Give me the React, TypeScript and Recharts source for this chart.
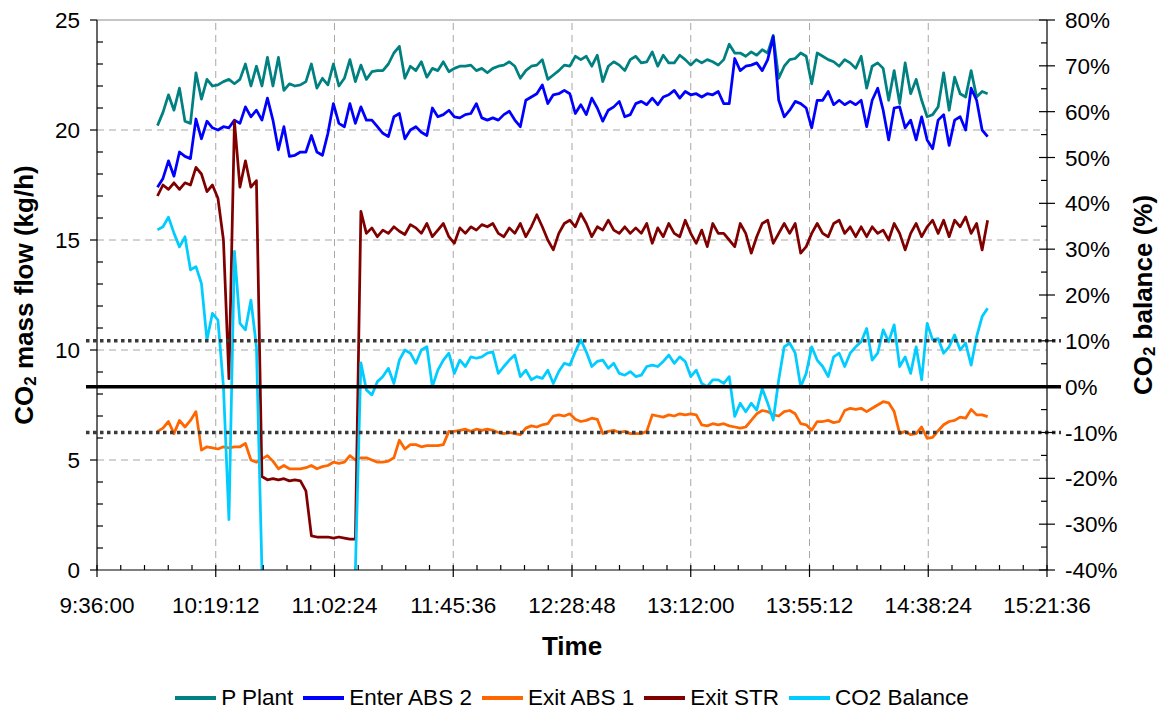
import React from 'react';
import { LineChart, Line, XAxis, YAxis, ReferenceLine, Legend } from 'recharts';

// Logged samples: first reading at 9:58 (minutes after midnight), one reading every 2 minutes
const SAMPLE_START_MIN = 598;
const SAMPLE_STEP_MIN = 2;

// CO2 mass flow, kg/h
const pPlant = [
  20.2, 20.8, 21.6, 20.9, 21.9, 20.4, 20.3, 22.6, 21.4, 22.3,
  22.0, 22.05, 22.2, 22.3, 22.1, 22.3, 23.0, 22.0, 22.9, 22.0,
  23.3, 22.0, 23.3, 21.8, 22.1, 22.0, 22.05, 22.2, 23.0, 21.9,
  22.35, 22.05, 23.0, 22.0, 22.35, 23.2, 22.2, 22.95, 22.3, 22.65,
  22.7, 22.7, 23.0, 23.5, 23.8, 22.35, 22.9, 22.7, 23.1, 22.4,
  22.8, 22.7, 23.1, 22.65, 22.8, 22.9, 22.9, 22.95, 22.7, 22.8,
  22.6, 22.8, 22.9, 22.95, 23.1, 22.9, 22.35, 22.7, 22.9, 22.95,
  23.2, 22.3, 22.5, 22.7, 22.95, 22.9, 23.35, 23.2, 23.35, 22.9,
  23.4, 22.2, 22.9, 23.1, 22.95, 22.7, 23.2, 23.35, 23.05, 23.1,
  23.55, 22.9, 23.4, 23.05, 23.05, 23.4, 23.2, 22.95, 23.2, 23.05,
  23.2, 23.1, 22.95, 23.2, 23.9, 23.5, 23.5, 23.35, 23.55, 23.4,
  23.65, 23.5, 24.3, 22.35, 22.9, 23.2, 23.25, 23.5, 23.35, 22.1,
  23.5, 23.35, 23.2, 23.1, 22.9, 23.2, 23.05, 22.8, 23.35, 21.9,
  22.9, 23.05, 22.8, 21.35, 22.7, 21.2, 23.05, 21.65, 22.3, 21.35,
  20.6, 20.7, 21.05, 22.6, 20.9, 22.4, 21.65, 21.5, 22.7, 21.5,
  21.75, 21.65,
];

const enterAbs2 = [
  17.4, 17.8, 18.6, 17.9, 19.0, 18.8, 18.7, 20.5, 19.6, 20.4,
  20.1, 20.0, 20.15, 20.1, 20.45, 20.3, 21.05, 20.6, 20.9, 20.45,
  21.45, 20.45, 19.1, 20.15, 18.8, 18.85, 19.0, 19.0, 19.75, 19.0,
  18.85, 19.85, 21.2, 20.3, 20.15, 21.2, 20.3, 21.05, 20.45, 20.45,
  20.15, 19.85, 19.7, 20.6, 20.75, 19.6, 20.0, 20.15, 19.9, 19.75,
  21.0, 20.6, 20.7, 20.9, 20.6, 20.55, 20.7, 20.75, 21.2, 20.55,
  20.45, 20.55, 20.45, 20.7, 20.85, 20.45, 20.15, 21.35, 21.5, 21.65,
  22.05, 21.2, 21.6, 21.65, 21.8, 21.65, 20.75, 21.15, 20.7, 21.45,
  21.0, 20.4, 20.9, 21.05, 21.3, 20.6, 20.7, 21.2, 21.3, 21.15,
  21.45, 21.15, 21.5, 21.6, 21.8, 21.45, 21.75, 21.6, 21.65, 21.5,
  21.65, 21.6, 21.75, 21.2, 21.2, 23.25, 22.7, 22.9, 22.95, 23.05,
  22.7, 23.2, 24.25, 21.35, 20.6, 20.9, 21.3, 21.2, 21.0, 20.1,
  21.35, 21.35, 21.75, 21.15, 21.35, 21.15, 21.3, 21.15, 21.35, 20.15,
  21.35, 21.9, 20.9, 19.55, 21.0, 21.05, 20.1, 20.45, 19.55, 20.6,
  19.55, 19.15, 20.45, 20.7, 19.3, 20.45, 20.6, 20.0, 21.9, 21.35,
  20.0, 19.7,
];

const exitAbs1 = [
  6.3, 6.45, 6.75, 6.2, 6.8, 6.5, 6.8, 7.2, 5.45, 5.6,
  5.55, 5.5, 5.6, 5.55, 5.6, 5.6, 5.75, 5.0, 4.9, 5.05,
  5.2, 4.95, 4.6, 4.75, 4.6, 4.6, 4.6, 4.65, 4.75, 4.6,
  4.7, 4.75, 4.9, 4.85, 4.9, 5.2, 5.0, 5.1, 5.1, 5.0,
  4.9, 4.9, 4.95, 5.1, 5.9, 5.5, 5.7, 5.7, 5.6, 5.65,
  5.65, 5.65, 5.7, 6.3, 6.3, 6.35, 6.4, 6.3, 6.4, 6.35,
  6.4, 6.35, 6.25, 6.2, 6.25, 6.2, 6.15, 6.45, 6.55, 6.5,
  6.6, 6.65, 7.0, 7.05, 7.0, 7.1, 6.85, 6.75, 6.8, 6.9,
  6.85, 6.2, 6.3, 6.35, 6.25, 6.3, 6.2, 6.2, 6.2, 6.3,
  7.05, 7.0, 6.95, 7.05, 7.0, 7.1, 7.05, 7.1, 7.05, 6.6,
  6.55, 6.65, 6.6, 6.65, 6.55, 6.5, 6.45, 6.5, 6.8, 7.1,
  7.25, 7.2, 7.05, 7.0, 7.2, 7.25, 7.1, 6.65, 6.6, 6.35,
  6.75, 6.75, 6.8, 6.7, 6.75, 7.25, 7.35, 7.3, 7.35, 7.2,
  7.35, 7.5, 7.65, 7.6, 7.2, 6.2, 6.3, 6.15, 6.2, 6.5,
  5.98, 6.03, 6.33, 6.6, 6.75, 6.8, 6.95, 6.9, 7.3, 7.05,
  7.05, 6.97,
];

const exitStr = [
  17.0, 17.5, 17.3, 17.6, 17.3, 17.6, 17.5, 18.3, 18.0, 17.2,
  17.5, 16.9, 15.0, 8.7, 20.4, 17.4, 18.6, 17.4, 17.7, 4.25,
  4.1, 4.15, 4.1, 4.15, 4.05, 4.1, 4.05, 3.6, 1.55, 1.5,
  1.5, 1.5, 1.45, 1.5, 1.45, 1.4, 1.4, 16.3, 15.3, 15.55,
  15.15, 15.45, 15.3, 15.6, 15.4, 15.25, 15.7, 15.55, 15.3, 15.75,
  15.15, 15.45, 15.75, 15.15, 14.85, 15.55, 15.3, 15.6, 15.45, 15.7,
  15.6, 15.75, 15.3, 15.15, 15.55, 15.3, 15.75, 15.15, 15.6, 16.15,
  15.6, 15.0, 14.55, 15.3, 15.75, 15.9, 15.6, 16.2, 15.75, 15.15,
  15.6, 15.45, 15.9, 15.45, 15.3, 15.6, 15.3, 15.55, 15.3, 15.75,
  14.85, 15.55, 15.15, 15.75, 15.3, 15.15, 15.9, 15.3, 14.85, 15.45,
  14.7, 15.75, 15.3, 15.3, 15.0, 14.7, 15.75, 15.3, 14.4, 15.15,
  15.75, 15.9, 14.85, 15.3, 15.75, 15.3, 15.75, 14.4, 14.7, 15.3,
  15.75, 15.3, 15.15, 15.75, 15.9, 15.3, 15.6, 15.15, 15.6, 15.15,
  15.6, 15.3, 15.45, 15.0, 15.75, 15.3, 14.55, 15.3, 15.75, 15.15,
  15.6, 15.9, 15.3, 15.9, 15.15, 15.9, 15.6, 16.05, 15.3, 15.75,
  14.55, 15.9,
];

// CO2 balance, % (null while the stripper outlet reading was off scale)
const co2Balance: (number | null)[] = [
  34.2, 34.9, 37.0, 33.5, 30.5, 32.7, 25.5, 26.2, 22.5, 10.2,
  16.0, 14.5, 0.0, -29.0, 29.5, 13.8, 12.4, 18.9, 8.7, -40,
  null, null, null, null, null, null, null, null, null, null,
  null, null, null, null, null, null, -40, 5.2, -0.7, -1.8,
  1.1, 2.2, 4.0, 0.7, 5.8, 8.0, 7.3, 5.1, 8.0, 8.7,
  0.0, 3.6, 5.8, 7.3, 2.9, 5.8, 4.4, 6.5, 6.2, 6.5,
  7.3, 7.6, 2.9, 4.4, 5.8, 6.9, 2.2, 3.6, 1.5, 2.2,
  1.8, 3.6, 0.7, 3.3, 5.1, 4.7, 7.6, 10.2, 7.6, 4.4,
  5.5, 5.8, 4.0, 5.1, 2.9, 2.5, 3.3, 2.2, 2.5, 4.4,
  4.7, 4.4, 5.5, 6.9, 5.1, 6.5, 5.5, 2.2, 3.6, 0.7,
  0.0, 1.5, 1.5, 0.7, 2.2, -6.5, -3.6, -5.5, -3.6, -5.1,
  -0.4, -3.6, -7.3, 1.5, 8.7, 9.5, 7.3, 0.0, 2.9, 8.7,
  5.8, 4.4, 2.2, 6.5, 7.3, 4.4, 7.3, 8.7, 9.8, 12.7,
  5.8, 7.3, 12.4, 9.8, 13.5, 4.4, 6.5, 2.9, 8.7, 1.5,
  13.8, 10.2, 10.5, 7.3, 8.7, 11.3, 8.0, 9.5, 4.7, 10.9,
  15.3, 17.1,
];

// Time axis: major ticks (minutes after midnight) and their labels
const timeTickValues = [576, 619.2, 662.4, 705.6, 748.8, 792, 835.2, 878.4, 921.6];
const timeTickLabels = ['9:36:00', '10:19:12', '11:02:24', '11:45:36', '12:28:48', '13:12:00', '13:55:12', '14:38:24', '15:21:36'];
const MINOR_PER_MAJOR = 5;

const flowTicks = Array.from({ length: 26 }, (_, i) => i); // 0..25 kg/h
const balanceTicks = Array.from({ length: 25 }, (_, i) => -40 + i * 5); // -40..80 %
const flowGridValues = [5, 10, 15, 20];
const balanceLimits = [10, -10];

const series = [
  { key: 'pPlant', name: 'P Plant', color: '#008080', axis: 'left' },
  { key: 'enterAbs2', name: 'Enter ABS 2', color: '#0000FF', axis: 'left' },
  { key: 'exitAbs1', name: 'Exit ABS 1', color: '#FF6600', axis: 'left' },
  { key: 'exitStr', name: 'Exit STR', color: '#800000', axis: 'left' },
  { key: 'co2Balance', name: 'CO2 Balance', color: '#00CCFF', axis: 'right' },
];

const data = pPlant.map((v, i) => ({
  t: SAMPLE_START_MIN + i * SAMPLE_STEP_MIN,
  pPlant: v,
  enterAbs2: enterAbs2[i],
  exitAbs1: exitAbs1[i],
  exitStr: exitStr[i],
  co2Balance: co2Balance[i],
}));

const timeTicksAll: number[] = timeTickValues.flatMap((v, i) => {
  if (i === timeTickValues.length - 1) return [v];
  const step = (timeTickValues[i + 1] - v) / MINOR_PER_MAJOR;
  return Array.from({ length: MINOR_PER_MAJOR }, (_, k) => v + k * step);
});

const FONT = '"Liberation Sans", Arial, Helvetica, sans-serif';
const TICK_FONT = 22.5;
const TITLE_FONT = 26;
const AXIS_STROKE = { stroke: '#000', strokeWidth: 1.2 };

function TimeTick({ x, y, payload }: any) {
  const idx = timeTickValues.findIndex((m) => Math.abs(m - payload.value) < 1e-6);
  if (idx < 0) {
    return <line x1={x} x2={x} y1={y - 5} y2={y} {...AXIS_STROKE} />;
  }
  return (
    <g>
      <line x1={x} x2={x} y1={y - 5} y2={y + 7} {...AXIS_STROKE} />
      <text x={x} y={y + 43} textAnchor="middle" fontSize={TICK_FONT} fontFamily={FONT} fill="#000">
        {timeTickLabels[idx]}
      </text>
    </g>
  );
}

function FlowTick({ x, y, payload }: any) {
  const v = payload.value;
  if (v % 5 !== 0) {
    return <line x1={x} x2={x + 6} y1={y} y2={y} {...AXIS_STROKE} />;
  }
  return (
    <g>
      <line x1={x - 7} x2={x} y1={y} y2={y} {...AXIS_STROKE} />
      <text x={x - 17} y={y} dy="0.36em" textAnchor="end" fontSize={TICK_FONT} fontFamily={FONT} fill="#000">
        {v}
      </text>
    </g>
  );
}

function BalanceTick({ x, y, payload }: any) {
  const v = payload.value;
  if (v % 10 !== 0) {
    return <line x1={x - 6} x2={x} y1={y} y2={y} {...AXIS_STROKE} />;
  }
  return (
    <g>
      <line x1={x - 8} x2={x + 8} y1={y} y2={y} {...AXIS_STROKE} />
      <text x={x + 18} y={y} dy="0.36em" textAnchor="start" fontSize={TICK_FONT} fontFamily={FONT} fill="#000">
        {`${v}%`}
      </text>
    </g>
  );
}

function VerticalTitle({ cx, cy, rest }: { cx: number; cy: number; rest: string }) {
  return (
    <text
      transform={`translate(${cx},${cy}) rotate(-90)`}
      textAnchor="middle"
      dominantBaseline="central"
      fontSize={TITLE_FONT}
      fontWeight="bold"
      fontFamily={FONT}
      fill="#000"
    >
      CO
      <tspan fontSize={17} dy={6}>2</tspan>
      <tspan dy={-6}>{rest}</tspan>
    </text>
  );
}

const leftTitle = (props: any) => {
  const vb = props.viewBox || { x: 0, y: 20, width: 97, height: 550 };
  return <VerticalTitle cx={vb.x + 24} cy={vb.y + vb.height / 2} rest=" mass flow (kg/h)" />;
};

const rightTitle = (props: any) => {
  const vb = props.viewBox || { x: 1047, y: 20, width: 122, height: 550 };
  return <VerticalTitle cx={vb.x + 96} cy={vb.y + vb.height / 2} rest=" balance (%)" />;
};

const timeTitle = (props: any) => {
  const vb = props.viewBox || { x: 97, y: 570, width: 950, height: 141 };
  return (
    <text
      x={vb.x + vb.width / 2}
      y={vb.y + 85}
      textAnchor="middle"
      fontSize={TITLE_FONT}
      fontWeight="bold"
      fontFamily={FONT}
      fill="#000"
    >
      Time
    </text>
  );
};

function LegendRow() {
  return (
    <div
      style={{
        display: 'flex',
        justifyContent: 'center',
        alignItems: 'center',
        gap: 10,
        height: 28,
        fontFamily: FONT,
        fontSize: TICK_FONT,
        color: '#000',
        whiteSpace: 'nowrap',
      }}
    >
      {series.map((s) => (
        <div key={s.key} style={{ display: 'flex', alignItems: 'center' }}>
          <span style={{ display: 'inline-block', width: 41, height: 3.5, background: s.color, marginRight: 5 }} />
          <span>{s.name}</span>
        </div>
      ))}
    </div>
  );
}

export default function App() {
  return (
    <div style={{ position: 'absolute', left: 0, top: 0, background: '#fff' }}>
      <LineChart width={1169} height={711} data={data} margin={{ top: 20, right: 0, bottom: 0, left: 0 }}>
        <XAxis
          dataKey="t"
          type="number"
          domain={[timeTickValues[0], timeTickValues[timeTickValues.length - 1]]}
          ticks={timeTicksAll}
          interval={0}
          height={141}
          tickSize={0}
          tickMargin={0}
          tickLine={false}
          axisLine={AXIS_STROKE}
          tick={<TimeTick />}
          label={{ content: timeTitle }}
        />
        <YAxis
          yAxisId="left"
          orientation="left"
          domain={[0, 25]}
          ticks={flowTicks}
          interval={0}
          width={97}
          tickSize={0}
          tickMargin={0}
          tickLine={false}
          axisLine={AXIS_STROKE}
          tick={<FlowTick />}
          label={{ content: leftTitle }}
        />
        <YAxis
          yAxisId="right"
          orientation="right"
          domain={[-40, 80]}
          ticks={balanceTicks}
          interval={0}
          width={122}
          tickSize={0}
          tickMargin={0}
          tickLine={false}
          axisLine={AXIS_STROKE}
          tick={<BalanceTick />}
          label={{ content: rightTitle }}
        />

        {flowGridValues.map((v) => (
          <ReferenceLine key={`hg${v}`} yAxisId="left" y={v} stroke="#a6a6a6" strokeWidth={1} strokeDasharray="7 5" />
        ))}
        {timeTickValues.slice(1, -1).map((v) => (
          <ReferenceLine key={`vg${v}`} yAxisId="left" x={v} stroke="#a6a6a6" strokeWidth={1} strokeDasharray="7 5" />
        ))}
        <ReferenceLine yAxisId="left" y={25} stroke="#8c8c8c" strokeWidth={1.2} />

        {series.map((s) => (
          <Line
            key={s.key}
            yAxisId={s.axis}
            dataKey={s.key}
            name={s.name}
            type="linear"
            stroke={s.color}
            strokeWidth={2.75}
            strokeLinejoin="round"
            dot={false}
            activeDot={false}
            connectNulls={false}
            isAnimationActive={false}
          />
        ))}

        {balanceLimits.map((v) => (
          <ReferenceLine
            key={`lim${v}`}
            yAxisId="right"
            segment={[{ x: 572, y: v }, { x: 926.7, y: v }]}
            ifOverflow="visible"
            stroke="#3a3a3a"
            strokeWidth={3.5}
            strokeDasharray="3.5 3.5"
          />
        ))}
        <ReferenceLine
          yAxisId="right"
          segment={[{ x: 572, y: 0 }, { x: 926.7, y: 0 }]}
          ifOverflow="visible"
          stroke="#000"
          strokeWidth={3.5}
        />

        <Legend
          layout="horizontal"
          align="center"
          verticalAlign="middle"
          wrapperStyle={{ top: 684, left: 97, width: 950 }}
          content={() => <LegendRow />}
        />
      </LineChart>
    </div>
  );
}
